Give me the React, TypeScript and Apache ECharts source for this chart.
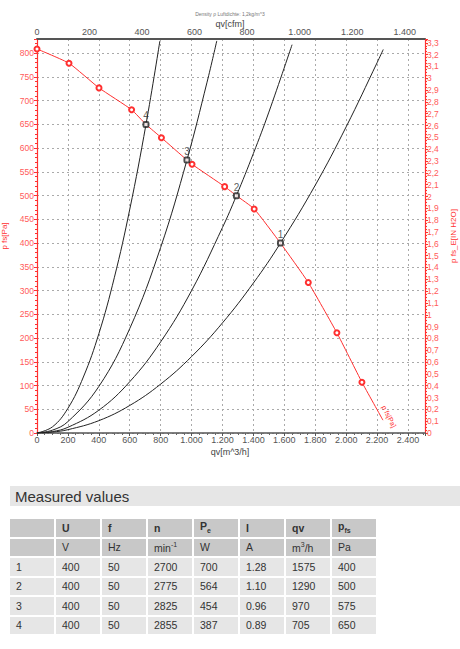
import React, { useEffect, useRef } from "react";
import * as echarts from "echarts";

// ---- data ----
const xMaxM3h = 2510;
const yMaxPa = 830;
const PA_PER_INH2O = 249.089;
const M3H_PER_CFM = 1.699011;

const curve1: number[][] = [[0, 0], [100, 2], [200, 7], [400, 26], [600, 58], [800, 103], [1000, 161], [1200, 232], [1400, 316], [1575, 400], [1800, 522], [2000, 645], [2200, 780], [2240, 808]];
const curve2: number[][] = [[0, 0], [100, 3], [200, 12], [400, 48], [600, 108], [800, 192], [1000, 300], [1200, 433], [1290, 500], [1400, 589], [1500, 676], [1650, 818]];
const curve3: number[][] = [[0, 0], [100, 6], [200, 24], [400, 98], [600, 220], [800, 391], [970, 575], [1100, 739], [1163, 826]];
const curve4: number[][] = [[0, 0], [100, 13], [200, 52], [300, 118], [400, 209], [500, 327], [600, 471], [705, 650], [795, 826]];

const fanQ = [0, 207, 401, 612, 705, 805, 970, 1003, 1214, 1290, 1405, 1575, 1755, 1940, 2102, 2238];
const fanP = [809, 779, 727, 681, 650, 622, 575, 566, 519, 500, 472, 400, 317, 211, 107, 27];
const fanMarked = [true, true, true, true, false, true, false, true, true, false, true, false, true, true, true, false];

const opLabels = ["1", "2", "3", "4"];
const opQ = [1575, 1290, 970, 705];
const opP = [400, 500, 575, 650];

const titleText = "Density ρ Luftdichte: 1,2kg/m^3";
const topAxisName = "qv[cfm]";
const bottomAxisName = "qv[m^3/h]";

const tableHead = ["", "U", "f", "n", "Pe", "I", "qv", "pfs"];
const tableUnits = ["", "V", "Hz", "min-1", "W", "A", "m3/h", "Pa"];
const rowIds = ["1", "2", "3", "4"];
const colU = ["400", "400", "400", "400"];
const colF = ["50", "50", "50", "50"];
const colN = ["2700", "2775", "2825", "2855"];
const colPe = ["700", "564", "454", "387"];
const colI = ["1.28", "1.10", "0.96", "0.89"];
const colQv = ["1575", "1290", "970", "705"];
const colPfs = ["400", "500", "575", "650"];

const FONT = "'Liberation Sans', Arial, sans-serif";
const RED = "#ff3030";
const RED_TXT = "#ff5a5a";

function thousands(v: number): string {
  const r = Math.round(v);
  if (r >= 1000) return Math.floor(r / 1000) + "." + String(r % 1000).padStart(3, "0");
  return String(r);
}

function Chart() {
  const ref = useRef<HTMLDivElement>(null);
  useEffect(() => {
    if (!ref.current) return;
    const chart = echarts.init(ref.current, null, { renderer: "svg" });
    const blackLine = (d: number[][]) => ({
      type: "line",
      xAxisIndex: 0,
      yAxisIndex: 0,
      data: d,
      smooth: 0.4,
      showSymbol: false,
      symbol: "none",
      lineStyle: { color: "#222", width: 1 },
      z: 3,
      silent: true,
    });
    const last = fanQ.length - 1;
    const fanData = fanQ.map((q, i) => {
      if (i === last) {
        return {
          value: [q, fanP[i]],
          symbol: "circle",
          symbolSize: 0.5,
          itemStyle: { color: "rgba(0,0,0,0)", borderWidth: 0 },
          label: { show: true, formatter: "p fs[Pa]", rotate: -63, position: [1, -14], align: "left", verticalAlign: "middle", color: RED, fontSize: 7, fontFamily: FONT },
        };
      }
      return {
        value: [q, fanP[i]],
        symbol: fanMarked[i] ? "emptyCircle" : "none",
        label: { show: false },
      };
    });
    const opData = opQ.map((q, i) => ({ value: [q, opP[i]], name: opLabels[i] }));
    const option: any = {
      animation: false,
      textStyle: { fontFamily: FONT },
      graphic: [
        { type: "text", left: "center", top: 11, style: { text: titleText, fontSize: 5, fill: "#777", fontFamily: FONT } },
        { type: "text", left: "center", top: 19, style: { text: topAxisName, fontSize: 9, fill: "#444", fontFamily: FONT } },
        { type: "text", left: "center", top: 447, style: { text: bottomAxisName, fontSize: 9, fill: "#444", fontFamily: FONT } },
      ],
      grid: { left: 37, right: 35, top: 39, bottom: 37, containLabel: false, outerBoundsMode: "none" },
      xAxis: [
        {
          type: "value",
          position: "bottom",
          min: 0,
          max: xMaxM3h,
          interval: 200,
          axisLine: { show: true, onZero: false, lineStyle: { color: "#555", width: 1.5 } },
          axisTick: { show: true, length: 3, lineStyle: { color: "#555" } },
          minorTick: { show: true, splitNumber: 4, length: 2, lineStyle: { color: "#666" } },
          axisLabel: {
            color: "#555",
            fontSize: 9,
            margin: 2,
            formatter: (v: number) => (Math.abs(v % 200) < 1e-6 ? thousands(v) : ""),
          },
          splitLine: { show: true, lineStyle: { color: "#aaa", type: [2, 3], width: 1 } },
        },
        {
          type: "value",
          position: "top",
          min: 0,
          max: xMaxM3h / M3H_PER_CFM,
          interval: 200,
          axisLine: { show: true, onZero: false, lineStyle: { color: "#555", width: 2 } },
          axisTick: { show: false },
          axisLabel: {
            color: "#555",
            fontSize: 9,
            margin: 3,
            formatter: (v: number) => (Math.abs(v % 200) < 1e-6 ? thousands(v) : ""),
          },
          splitLine: { show: false },
        },
      ],
      yAxis: [
        {
          type: "value",
          position: "left",
          min: 0,
          max: yMaxPa,
          interval: 50,
          name: "p fs[Pa]",
          nameLocation: "middle",
          nameRotate: 90,
          nameGap: 20,
          nameTextStyle: { color: RED, fontSize: 8, fontFamily: FONT },
          axisLine: { show: true, onZero: false, lineStyle: { color: RED, width: 1.2 } },
          axisTick: { show: true, length: 3, lineStyle: { color: RED } },
          minorTick: { show: true, splitNumber: 5, length: 2, lineStyle: { color: RED } },
          axisLabel: {
            color: RED_TXT,
            fontSize: 8.5,
            margin: 3,
            formatter: (v: number) => (Math.abs(v % 50) < 1e-6 ? String(v) : ""),
          },
          splitLine: { show: true, lineStyle: { color: "#aaa", type: [2, 3], width: 1 } },
        },
        {
          type: "value",
          position: "right",
          min: 0,
          max: yMaxPa / PA_PER_INH2O,
          interval: 0.1,
          name: "p fs_E[IN H2O]",
          nameLocation: "middle",
          nameRotate: 90,
          nameGap: 20,
          nameTextStyle: { color: RED, fontSize: 8, fontFamily: FONT },
          axisLine: { show: true, onZero: false, lineStyle: { color: RED, width: 1.2 } },
          axisTick: { show: true, length: 3, lineStyle: { color: RED } },
          minorTick: { show: true, splitNumber: 4, length: 2, lineStyle: { color: RED } },
          axisLabel: {
            color: RED_TXT,
            fontSize: 8.5,
            margin: 2,
            formatter: (v: number) => {
              const t = Math.round(v * 10);
              if (Math.abs(v * 10 - t) > 1e-6) return "";
              if (t % 10 === 0) return String(t / 10);
              return (t / 10).toFixed(1).replace(".", ",");
            },
          },
          splitLine: { show: false },
        },
      ],
      series: [
        blackLine(curve1),
        blackLine(curve2),
        blackLine(curve3),
        blackLine(curve4),
        {
          type: "line",
          xAxisIndex: 0,
          yAxisIndex: 0,
          data: fanData,
          smooth: 0.15,
          symbolSize: 5,
          showAllSymbol: true,
          lineStyle: { color: RED, width: 1 },
          itemStyle: { color: RED, borderColor: RED, borderWidth: 1 },
          z: 4,
          silent: true,
        },
        {
          type: "scatter",
          xAxisIndex: 0,
          yAxisIndex: 0,
          data: opData,
          symbol: "emptyRoundRect",
          symbolSize: 5,
          itemStyle: { color: "#222", borderColor: "#222", borderWidth: 1 },
          label: {
            show: true,
            position: "top",
            distance: 0,
            formatter: (p: any) => p.name,
            color: "#333",
            fontSize: 10,
            fontFamily: FONT,
          },
          z: 5,
          silent: true,
        },
      ],
    };
    chart.setOption(option);
    return () => chart.dispose();
  }, []);
  return <div ref={ref} style={{ position: "absolute", left: 0, top: 0, width: 460, height: 470 }} />;
}

function headCell(t: string) {
  if (t === "Pe") return <span>P<sub style={{ fontSize: 7 }}>e</sub></span>;
  if (t === "pfs") return <span>p<sub style={{ fontSize: 7 }}>fs</sub></span>;
  return <span>{t}</span>;
}
function unitCell(t: string) {
  if (t === "min-1") return <span>min<sup style={{ fontSize: 7 }}>-1</sup></span>;
  if (t === "m3/h") return <span>m<sup style={{ fontSize: 7 }}>3</sup>/h</span>;
  return <span>{t}</span>;
}

function Table() {
  const rows = rowIds.map((id, i) => [id, colU[i], colF[i], colN[i], colPe[i], colI[i], colQv[i], colPfs[i]]);
  const cellBase: React.CSSProperties = {
    display: "flex",
    alignItems: "center",
    paddingLeft: 6,
    boxSizing: "border-box",
    fontSize: 10.5,
    color: "#333",
    fontFamily: FONT,
    lineHeight: 1,
  };
  const cells: React.ReactNode[] = [];
  tableHead.forEach((t, j) => cells.push(<div key={"h" + j} style={{ ...cellBase, background: "#c8c8c8", fontWeight: "bold" }}>{headCell(t)}</div>));
  tableUnits.forEach((t, j) => cells.push(<div key={"u" + j} style={{ ...cellBase, background: "#c8c8c8" }}>{unitCell(t)}</div>));
  rows.forEach((r, i) => r.forEach((t, j) => cells.push(<div key={"r" + i + "_" + j} style={{ ...cellBase, background: "#e6e6e6" }}>{t}</div>)));
  return (
    <>
      <div style={{ position: "absolute", left: 10, top: 486, width: 450, height: 20, background: "#e6e6e6", display: "flex", alignItems: "center", boxSizing: "border-box", paddingLeft: 5, fontFamily: FONT, fontSize: 15, color: "#333" }}>
        Measured values
      </div>
      <div style={{ position: "absolute", left: 10, top: 519, display: "grid", gridTemplateColumns: "44px repeat(7, 44px)", gridAutoRows: "17.5px", columnGap: 2, rowGap: 2 }}>
        {cells}
      </div>
    </>
  );
}

export default function App() {
  return (
    <div style={{ position: "absolute", left: 0, top: 0, width: 460, height: 649, background: "#fff", overflow: "hidden" }}>
      <Chart />
      <Table />
    </div>
  );
}
